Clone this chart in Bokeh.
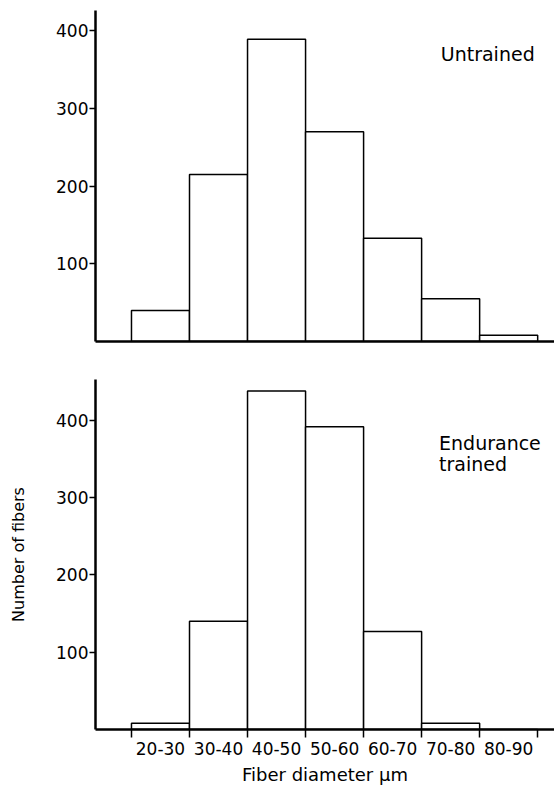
from bokeh.plotting import figure
from bokeh.models import FixedTicker, Range1d, Label
from bokeh.layouts import column
from bokeh.embed import file_html
from bokeh.resources import INLINE

# ---- data ----
bin_starts = [20, 30, 40, 50, 60, 70, 80]
bin_width = 10
bin_labels = ["20-30", "30-40", "40-50", "50-60", "60-70", "70-80", "80-90"]
untrained = [40, 215, 389, 270, 133, 55, 8]
endurance = [8, 140, 438, 392, 127, 8, 0]
y_ticks = [100, 200, 300, 400]

FONT = "DejaVu Sans"
bin_ends = [s + bin_width for s in bin_starts]
edges = bin_starts + [bin_ends[-1]]
centers = [s + bin_width / 2 for s in bin_starts]


def make_fig(height, y_end, counts, top_border, bottom_border, show_x):
    p = figure(width=554, height=height, output_backend="svg", toolbar_location=None,
               x_range=Range1d(13.8, 92.9), y_range=Range1d(0, y_end),
               min_border_left=95, min_border_right=0,
               min_border_top=top_border, min_border_bottom=bottom_border)
    p.outline_line_color = None
    p.xgrid.grid_line_color = None
    p.ygrid.grid_line_color = None
    p.background_fill_color = "white"
    p.border_fill_color = "white"

    p.quad(left=bin_starts, right=bin_ends, bottom=0, top=counts,
           fill_color="white", line_color="black", line_width=1.5)

    # y axis
    ya = p.yaxis[0]
    ya.ticker = FixedTicker(ticks=y_ticks, minor_ticks=[])
    ya.axis_line_width = 2.5
    ya.axis_line_color = "black"
    ya.major_tick_line_color = "black"
    ya.major_tick_line_width = 1.5
    ya.major_tick_in = 0
    ya.major_tick_out = 6
    ya.minor_tick_line_color = None
    ya.major_label_standoff = 1
    ya.major_label_text_font = FONT
    ya.major_label_text_font_size = "17px"
    ya.major_label_text_color = "black"

    # x axis
    xa = p.xaxis[0]
    xa.axis_line_width = 2.5
    xa.axis_line_color = "black"
    if show_x:
        xa.ticker = FixedTicker(ticks=centers, minor_ticks=edges)
        xa.major_label_overrides = {c: l for c, l in zip(centers, bin_labels)}
        xa.major_tick_line_color = None
        xa.major_tick_in = 0
        xa.major_tick_out = 0
        xa.minor_tick_line_color = "black"
        xa.minor_tick_line_width = 1.5
        xa.minor_tick_in = 0
        xa.minor_tick_out = 8
        xa.major_label_standoff = 4
        xa.major_label_text_font = FONT
        xa.major_label_text_font_size = "17px"
        xa.major_label_text_color = "black"
    else:
        xa.ticker = FixedTicker(ticks=[], minor_ticks=[])
        xa.major_tick_line_color = None
        xa.minor_tick_line_color = None
        xa.major_label_text_font_size = "0px"
        xa.major_tick_out = 0
        xa.minor_tick_out = 0
        xa.major_label_standoff = 0
    return p


p1 = make_fig(360, 426, untrained, 10, 19, False)
p1.add_layout(Label(x=73.3, y=370, text="Untrained", text_font=FONT,
                    text_font_size="19px", text_color="black",
                    text_baseline="alphabetic"))

p2 = make_fig(434, 453, endurance, 19, 65, True)
p2.add_layout(Label(x=73.0, y=371, text="Endurance", text_font=FONT,
                    text_font_size="19px", text_color="black",
                    text_baseline="alphabetic"))
p2.add_layout(Label(x=73.0, y=343.5, text="trained", text_font=FONT,
                    text_font_size="19px", text_color="black",
                    text_baseline="alphabetic"))
p2.xaxis[0].axis_label = "Fiber diameter μm"
p2.xaxis[0].axis_label_text_font = FONT
p2.xaxis[0].axis_label_text_font_size = "18px"
p2.xaxis[0].axis_label_text_font_style = "normal"
p2.xaxis[0].axis_label_text_color = "black"
p2.xaxis[0].axis_label_standoff = 6
p2.yaxis[0].axis_label = "Number of fibers"
p2.yaxis[0].axis_label_text_font = FONT
p2.yaxis[0].axis_label_text_font_size = "16px"
p2.yaxis[0].axis_label_text_font_style = "normal"
p2.yaxis[0].axis_label_text_color = "black"
p2.yaxis[0].axis_label_standoff = 25

layout = column(p1, p2, spacing=0)
open("out.html", "w").write(file_html(layout, INLINE))
